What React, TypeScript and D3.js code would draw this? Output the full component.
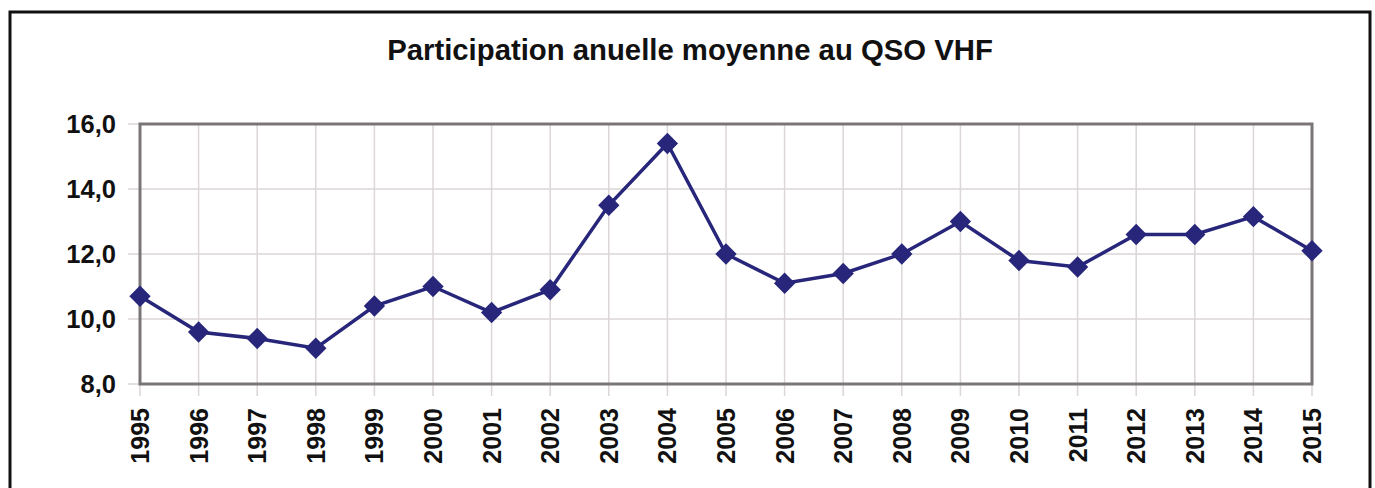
import React from "react";
import * as d3 from "d3";

const years: string[] = [
  "1995","1996","1997","1998","1999","2000","2001","2002","2003","2004",
  "2005","2006","2007","2008","2009","2010","2011","2012","2013","2014","2015",
];
const participation: number[] = [
  10.7, 9.6, 9.4, 9.1, 10.4, 11.0, 10.2, 10.9, 13.5, 15.4,
  12.0, 11.1, 11.4, 12.0, 13.0, 11.8, 11.6, 12.6, 12.6, 13.15, 12.1,
];
const yTicks: number[] = [8, 10, 12, 14, 16];
const title = "Participation anuelle moyenne au QSO VHF";

const W = 1375;
const H = 488;
const plot = { left: 140, right: 1312, top: 124, bottom: 384 };
const navy = "#27267a";
const font = "'Liberation Sans', Arial, sans-serif";

export default function App() {
  const x = d3.scalePoint<string>().domain(years).range([plot.left, plot.right]);
  const y = d3.scaleLinear().domain([8, 16]).range([plot.bottom, plot.top]);
  const line = d3
    .line<number>()
    .x((_, i) => x(years[i]) as number)
    .y((d) => y(d));
  const fmt = (v: number) => v.toFixed(1).replace(".", ",");
  const diamond = d3.symbol().type(d3.symbolDiamond2).size(290)() as string;

  return (
    <svg
      width={W}
      height={H}
      style={{ position: "absolute", left: 0, top: 0, background: "#fff" }}
      fontFamily={font}
    >
      <rect x={0} y={0} width={W} height={H} fill="#fff" />
      <rect x={10} y={12} width={1360} height={520} fill="none" stroke="#111" strokeWidth={3} />
      <text
        x={690}
        y={60}
        textAnchor="middle"
        fontSize={29.3}
        fontWeight="bold"
        fill="#111"
      >
        {title}
      </text>
      {yTicks.map((t) => (
        <g key={"y" + t}>
          <line x1={plot.left - 12} x2={plot.right} y1={y(t)} y2={y(t)} stroke="#dcd6d6" strokeWidth={1.5} />
          <text
            x={116}
            y={y(t)}
            dy="0.36em"
            textAnchor="end"
            fontSize={25.5}
            fontWeight="bold"
            fill="#111"
          >
            {fmt(t)}
          </text>
        </g>
      ))}
      {years.map((yr) => {
        const xx = x(yr) as number;
        return (
          <g key={"x" + yr}>
            <line x1={xx} x2={xx} y1={plot.top} y2={plot.bottom + 12} stroke="#dcd6d6" strokeWidth={1.5} />
            <text
              transform={`translate(${xx},${408}) rotate(-90)`}
              dy="0.36em"
              textAnchor="end"
              fontSize={25}
              fontWeight="bold"
              fill="#111"
            >
              {yr}
            </text>
          </g>
        );
      })}
      <rect
        x={plot.left}
        y={plot.top}
        width={plot.right - plot.left}
        height={plot.bottom - plot.top}
        fill="none"
        stroke="#7a7676"
        strokeWidth={3}
      />
      <path d={line(participation) as string} fill="none" stroke={navy} strokeWidth={3.5} />
      {participation.map((v, i) => (
        <path
          key={"m" + i}
          d={diamond}
          transform={`translate(${x(years[i])},${y(v)})`}
          fill={navy}
        />
      ))}
    </svg>
  );
}
